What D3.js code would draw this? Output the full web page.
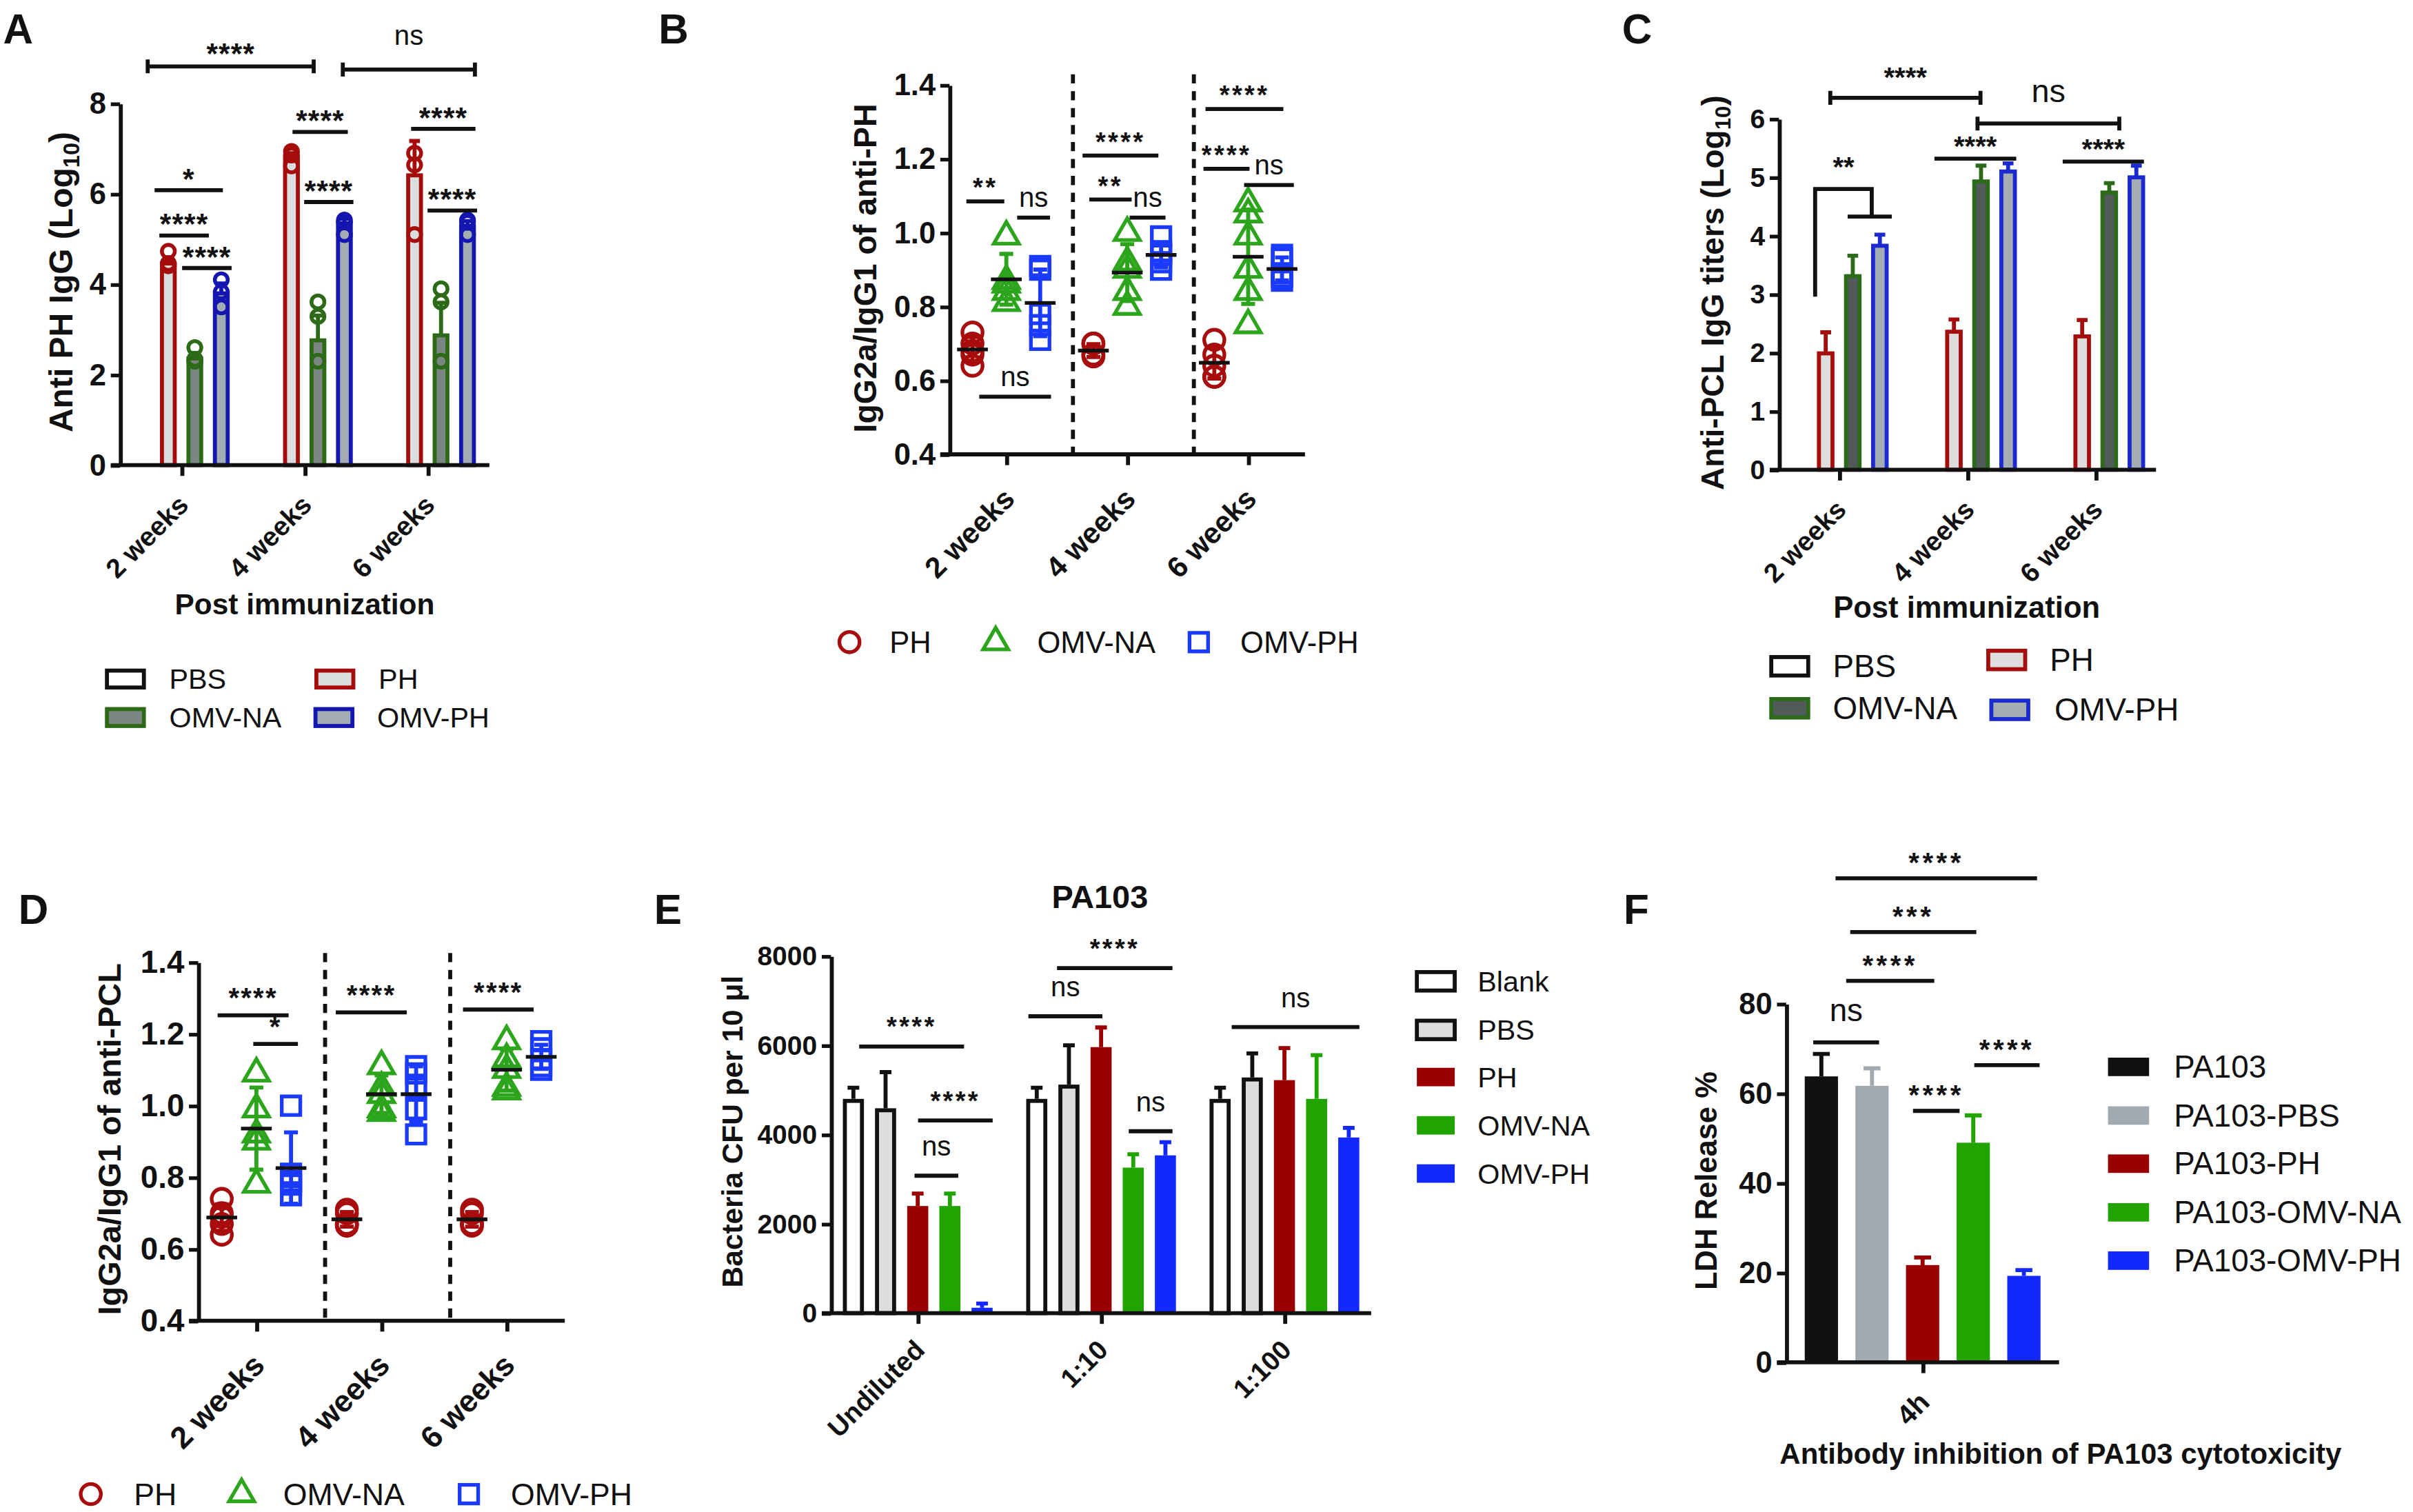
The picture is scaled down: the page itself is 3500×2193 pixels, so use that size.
<!DOCTYPE html>
<html>
<head>
<meta charset="utf-8">
<script src="https://cdn.jsdelivr.net/npm/d3@7"></script>
<style>
  body { margin: 0; background: #fff; }
  svg { display: block; }
</style>
</head>
<body>
<script>
// ---------------- data ----------------
const weeks = ['2 weeks', '4 weeks', '6 weeks'];
const groups4 = ['PBS', 'PH', 'OMV-NA', 'OMV-PH'];

// A: anti PH IgG (log10)
const aPBS = [0, 0, 0];
const aPH = [4.46, 6.80, 6.41];
const aNA = [2.36, 2.76, 2.87];
const aOMV = [3.80, 5.35, 5.28];
const aPHsd = [0.12, 0.10, 0.76];
const aNAsd = [0.12, 0.55, 0.72];
const aOMVsd = [0.22, 0.10, 0.12];
const aPHpts = [[4.73, 4.46, 4.41], [6.94, 6.86, 6.62], [6.90, 6.64, 5.10]];
const aNApts = [[2.60, 2.34, 2.30], [3.61, 3.29, 2.30], [3.90, 3.61, 2.30]];
const aOMVpts = [[4.10, 3.83, 3.50], [5.42, 5.38, 5.10], [5.42, 5.37, 5.10]];
const aSig = [[0, 0.48, 3.06, 6.08, '*'], [0, 0.66, 2.53, 5.08, '****'], [0, 1.52, 3.39, 4.36, '****'],
              [1, 1.04, 3.13, 7.37, '****'], [1, 1.48, 3.34, 5.82, '****'],
              [2, 0.87, 3.30, 7.44, '****'], [2, 1.49, 3.36, 5.63, '****']];
const aTop = [[0, 0.22, 1, 1.84, 8.82, '****'], [1, 2.94, 2, 3.28, 8.75, 'ns']];

// B: IgG2a/IgG1 of anti-PH, individual mice
const bPH = [[0.73, 0.70, 0.68, 0.67, 0.64], [0.70, 0.70, 0.67, 0.665, 0.67], [0.71, 0.67, 0.64, 0.61, 0.61]];
const bNA = [[0.99, 0.87, 0.84, 0.81, 0.86], [1.00, 0.92, 0.90, 0.84, 0.80], [1.08, 1.05, 0.99, 0.90, 0.84, 0.75]];
const bOMV = [[0.91, 0.90, 0.78, 0.75, 0.71], [0.99, 0.95, 0.94, 0.92, 0.90], [0.94, 0.93, 0.89, 0.88, 0.87]];
const bSig = [[0, -1.18, -0.06, 1.085, '**'], [0, 0.32, 1.29, 1.041, 'ns'], [0, -0.8, 1.32, 0.556, 'ns'],
              [1, -1.32, 0.92, 1.209, '****'], [1, -1.12, 0.13, 1.09, '**'], [1, 0.07, 1.13, 1.041, 'ns'],
              [2, -1.26, 1.04, 1.335, '****'], [2, -1.32, 0.04, 1.173, '****'], [2, -0.12, 1.35, 1.129, 'ns']];

// C: anti-PCL IgG titers (log10)
const cPBS = [0, 0, 0];
const cPH = [1.99, 2.36, 2.28];
const cNA = [3.31, 4.93, 4.74];
const cOMV = [3.83, 5.10, 5.00];
const cPHsd = [0.36, 0.21, 0.28];
const cNAsd = [0.35, 0.27, 0.16];
const cOMVsd = [0.19, 0.14, 0.20];
const cSig = [[1, 0.28, 3.30, 5.32, '****'], [2, 0.28, 3.28, 5.27, '****'], [0, 1.81, 3.44, 4.33, '']];
const cTop = [[0, 1.17, 1, 1.98, 6.36, '****'], [1, 1.87, 2, 2.37, 5.92, 'ns']];
const cElbow = [[0, 0.61, 2.96], [0, 0.61, 4.80], [0, 2.70, 4.80], [0, 2.70, 4.33]];

// D: IgG2a/IgG1 of anti-PCL, individual mice
const dPH = [[0.74, 0.70, 0.69, 0.67, 0.64], [0.71, 0.70, 0.67, 0.67, 0.665], [0.71, 0.70, 0.67, 0.665, 0.67]];
const dNA = [[1.09, 0.99, 0.92, 0.90, 0.78], [1.11, 1.05, 1.03, 0.99, 0.98], [1.18, 1.13, 1.10, 1.05, 1.04]];
const dOMV = [[1.00, 0.81, 0.79, 0.75, 0.78], [1.11, 1.09, 1.05, 0.99, 0.92], [1.18, 1.16, 1.13, 1.11, 1.10]];
const dSig = [[0, -1.12, 0.93, 1.252, '****'], [0, -0.09, 1.2, 1.172, '*'],
              [1, -1.32, 0.73, 1.26, '****'], [2, -1.26, 0.78, 1.268, '****']];

// E: bacteria CFU per 10 ul
const dilutions = ['Undiluted', '1:10', '1:100'];
const eGroups = ['Blank', 'PBS', 'PH', 'OMV-NA', 'OMV-PH'];
const eBlank = [4800, 4800, 4800];
const ePBS = [4590, 5120, 5280];
const ePH = [2400, 5960, 5220];
const eNA = [2400, 3260, 4800];
const eOMV = [120, 3535, 3935];
const eBlankSd = [250, 250, 250];
const ePBSsd = [810, 880, 540];
const ePHsd = [280, 440, 720];
const eNAsd = [280, 300, 980];
const eOMVsd = [95, 295, 215];
const eSig = [[0, 0.18, 3.44, 5972, '****'], [0, 2.01, 4.33, 4316, '****'], [0, 1.9, 3.26, 3079, 'ns'],
              [1, -0.26, 2.04, 6651, 'ns'], [1, 0.63, 4.22, 7730, '****'], [1, 2.86, 4.22, 4075, 'ns'],
              [2, 0.36, 4.33, 6409, 'ns']];

// F: LDH release %
const fTime = ['4h'];
const fGroups = ['PA103', 'PA103-PBS', 'PA103-PH', 'PA103-OMV-NA', 'PA103-OMV-PH'];
const fMean = [63.8, 61.7, 21.7, 49.0, 19.3];
const fSd = [5.0, 3.9, 1.7, 6.1, 1.3];
const fSig = [[0, -0.16, 1.14, 71.4, 'ns'], [0, 1.81, 2.73, 56.1, '****'], [0, 3.02, 4.31, 66.3, '****'],
              [0, 0.49, 2.23, 85.1, '****'], [0, 0.57, 3.06, 96.0, '***'], [0, 0.28, 4.26, 108, '****']];

// ---------------- helpers ----------------
const FONT = "'Liberation Sans', Arial, Helvetica, sans-serif";
const INK = '#111';

// drawn in the 1568x982 space of the reference, scaled up to the page
const svg = d3.select('body').append('svg')
    .attr('width', 3500).attr('height', 2193)
    .attr('viewBox', '0 0 1568 982')
    .attr('font-family', FONT);

function text(g, x, y, str, fs, opt = {}){
    return g.append('text').attr('x', x).attr('y', y)
        .attr('font-size', fs).attr('font-weight', opt.bold ? 'bold' : 'normal')
        .attr('text-anchor', opt.anchor || 'start').attr('fill', INK).text(str);
}

function yTitle(g, cx, cy, str, fs, subText, tail){
    const t = g.append('text').attr('transform', `translate(${cx},${cy}) rotate(-90)`)
        .attr('dy', '0.35em').attr('text-anchor', 'middle').attr('font-size', fs)
        .attr('font-weight', 'bold').attr('fill', INK).text(str);
    if(subText){
        t.append('tspan').attr('font-size', fs * 0.68).attr('dy', '0.3em').text(subText);
        t.append('tspan').attr('dy', '-0.2em').text(tail);
    }
}

function yAxis(g, y, x0, ticks, fmt, fs){
    const a = g.append('g').attr('transform', `translate(${x0},0)`)
        .call(d3.axisLeft(y).tickValues(ticks).tickFormat(fmt).tickSize(6).tickSizeOuter(0).tickPadding(3));
    a.attr('font-size', fs).attr('font-family', FONT);
    a.select('.domain').attr('stroke', INK).attr('stroke-width', 2.6);
    a.selectAll('.tick line').attr('stroke', INK).attr('stroke-width', 2.4);
    a.selectAll('.tick text').attr('font-weight', 'bold').attr('fill', INK);
}

function xAxis(g, x, y0, x0, x1, fs, dx, dy){
    const a = g.append('g').attr('transform', `translate(0,${y0})`)
        .call(d3.axisBottom(x).tickSize(7).tickSizeOuter(0));
    a.attr('font-size', fs).attr('font-family', FONT);
    a.select('.domain').attr('d', `M${x0 - 6},0H${x1}`).attr('stroke', INK).attr('stroke-width', 2.6);
    a.selectAll('.tick line').attr('stroke', INK).attr('stroke-width', 2.6);
    a.selectAll('.tick text').attr('y', 0).attr('dy', 0).attr('x', 0)
        .attr('text-anchor', 'end').attr('font-weight', 'bold').attr('fill', INK)
        .attr('transform', `translate(${dx},${dy}) rotate(-45)`);
}

function sigLines(g, list, xAt, y, o){
    list.forEach(([gi, k1, k2, v, lab]) => {
        const x1 = xAt(gi, k1), x2 = xAt(gi, k2), yy = y(v);
        g.append('line').attr('x1', x1).attr('x2', x2).attr('y1', yy).attr('y2', yy)
            .attr('stroke', INK).attr('stroke-width', 2.6);
        if(!lab) return;
        const star = lab.startsWith('*');
        text(g, (x1 + x2) / 2, yy + (star ? o.starDy : o.nsDy), lab, star ? o.starFs : o.nsFs,
             {anchor: 'middle', bold: star}).attr('letter-spacing', star ? (o.ls || 0) : 0);
    });
}

function capBrackets(g, list, xAt, y, o){
    list.forEach(([g1, k1, g2, k2, v, lab]) => {
        const x1 = xAt(g1, k1), x2 = xAt(g2, k2), yy = y(v);
        g.append('path').attr('d', `M${x1},${yy}H${x2}M${x1},${yy - 4.5}V${yy + 4.5}M${x2},${yy - 4.5}V${yy + 4.5}`)
            .attr('stroke', INK).attr('stroke-width', 2.6).attr('fill', 'none');
        const star = lab.startsWith('*');
        text(g, (x1 + x2) / 2, yy + (star ? o.topStarDy : o.topNsDy), lab, star ? o.starFs : o.nsFs,
             {anchor: 'middle', bold: star}).attr('letter-spacing', star ? (o.ls || 0) : 0);
    });
}

function swatch(g, x, cy, w, h, fill, stroke){
    g.append('rect').attr('x', x).attr('y', cy - h / 2).attr('width', w).attr('height', h)
        .attr('fill', fill).attr('stroke', stroke || 'none').attr('stroke-width', stroke ? 2.6 : 0);
}

// grouped outline bars (panels A and C)
function outlineBars(g, rows, x, sub, y, bw, style, sw){
    g.selectAll(null).data(rows.filter(d => d.v > 0)).join('rect')
        .attr('x', d => x(d.w) + sub(d.j) - bw / 2 + sw / 2)
        .attr('y', d => y(d.v))
        .attr('width', bw - sw)
        .attr('height', d => y(0) - y(d.v))
        .attr('fill', d => style[d.grp].fill)
        .attr('stroke', d => style[d.grp].stroke).attr('stroke-width', sw);
    g.selectAll(null).data(rows.filter(d => d.sd > 0)).join('path')
        .attr('d', d => {
            const cx = x(d.w) + sub(d.j), top = y(d.v + d.sd);
            return `M${cx},${y(d.v)}V${top}M${cx - 3.5},${top}H${cx + 3.5}`;
        })
        .attr('stroke', d => style[d.grp].stroke).attr('stroke-width', 2.6).attr('fill', 'none');
}

// scatter with mean and SD (panels B and D)
const markerStyle = [
    {name: 'PH', color: '#a80c0c', sym: d3.symbolCircle, size: 135},
    {name: 'OMV-NA', color: '#2ca51c', sym: d3.symbolTriangle, size: 115},
    {name: 'OMV-PH', color: '#1a3bff', sym: d3.symbolSquare, size: 145}
];

function dotPanel(g, sets, x, sub, y){
    const rows = [];
    weeks.forEach((w, i) => sets.forEach((set, j) => rows.push({w, j, pts: set[i]})));
    rows.forEach(r => { r.mean = d3.mean(r.pts); r.sd = d3.deviation(r.pts); r.cx = x(r.w) + sub(r.j - 1); });
    // sd whiskers
    g.selectAll(null).data(rows).join('path')
        .attr('d', d => {
            const t = y(d.mean + d.sd), b = y(d.mean - d.sd);
            return `M${d.cx},${t}V${b}M${d.cx - 4.5},${t}H${d.cx + 4.5}M${d.cx - 4.5},${b}H${d.cx + 4.5}`;
        })
        .attr('stroke', d => markerStyle[d.j].color).attr('stroke-width', 2.6).attr('fill', 'none');
    // points
    rows.forEach(r => {
        const ms = markerStyle[r.j];
        g.selectAll(null).data(r.pts).join('path')
            .attr('d', d3.symbol(ms.sym, ms.size))
            .attr('transform', v => `translate(${r.cx},${y(v)})`)
            .attr('fill', 'none').attr('stroke', ms.color).attr('stroke-width', 2.4);
    });
    // mean
    g.selectAll(null).data(rows).join('line')
        .attr('x1', d => d.cx - 10).attr('x2', d => d.cx + 10)
        .attr('y1', d => y(d.mean)).attr('y2', d => y(d.mean))
        .attr('stroke', INK).attr('stroke-width', 2.4);
}

function dashedSeparators(g, x, yTop, yBot, shift){
    const d = x.domain();
    for(let i = 0; i < d.length - 1; i++){
        const xx = (x(d[i]) + x(d[i + 1])) / 2 + shift;
        g.append('line').attr('x1', xx).attr('x2', xx).attr('y1', yTop).attr('y2', yBot)
            .attr('stroke', INK).attr('stroke-width', 2.6).attr('stroke-dasharray', '6,5');
    }
}

function markerLegend(g, cy, pos, fs){
    markerStyle.forEach((ms, i) => {
        g.append('path').attr('d', d3.symbol(ms.sym, ms.size)())
            .attr('transform', `translate(${pos[i][0]},${cy})`)
            .attr('fill', 'none').attr('stroke', ms.color).attr('stroke-width', 2.4);
        text(g, pos[i][1], cy + fs * 0.36, ms.name, fs);
    });
}

// ---------------- Panel A ----------------
{
    const g = svg.append('g');
    const x = d3.scalePoint(weeks, [78, 318]).padding(0.5);
    const y = d3.scaleLinear([0, 8], [302, 67]);
    const s = 17.2;
    const sub = d3.scaleLinear([0, 3], [-1.5 * s, 1.5 * s]);
    const style = {
        'PBS': {fill: '#fff', stroke: INK},
        'PH': {fill: '#dadede', stroke: '#a50d0d'},
        'OMV-NA': {fill: '#7b8683', stroke: '#2c6a17'},
        'OMV-PH': {fill: '#a1adb3', stroke: '#1515b0'}
    };
    const series = [aPBS, aPH, aNA, aOMV], sds = [[0, 0, 0], aPHsd, aNAsd, aOMVsd];
    const pts = [[[], [], []], aPHpts, aNApts, aOMVpts];
    const rows = weeks.flatMap((w, i) => groups4.map((grp, j) => ({w, grp, j, v: series[j][i], sd: sds[j][i], pts: pts[j][i]})));
    outlineBars(g, rows, x, sub, y, 10.9, style, 2.6);
    rows.forEach(r => {
        g.selectAll(null).data(r.pts).join('circle')
            .attr('cx', x(r.w) + sub(r.j)).attr('cy', v => y(v)).attr('r', 4.2)
            .attr('fill', 'none').attr('stroke', style[r.grp].stroke).attr('stroke-width', 2.5);
    });
    yAxis(g, y, 78, [0, 2, 4, 6, 8], d3.format('d'), 19.5);
    xAxis(g, x, 302, 78, 318, 17.5, 5, 27);
    const xAt = (gi, k) => x(weeks[gi]) + sub(k);
    const o = {starFs: 19, nsFs: 18, starDy: -1, nsDy: -7, topStarDy: -2, topNsDy: -16, ls: 0.5};
    sigLines(g, aSig, xAt, y, o);
    capBrackets(g, aTop, xAt, y, o);
    yTitle(g, 39.5, 183, 'Anti PH IgG (Log', 21.5, '10', ')');
    text(g, 198, 399, 'Post immunization', 19, {anchor: 'middle', bold: true});
    const leg = [['PBS', 69.5, 441, 110], ['PH', 205.6, 441, 246], ['OMV-NA', 69.5, 466, 110], ['OMV-PH', 205, 466, 245]];
    leg.forEach(([name, sx, cy, tx]) => {
        swatch(g, sx, cy, 24, 11, style[name].fill, style[name].stroke);
        text(g, tx, cy + 6.5, name, 18.5);
    });
    text(g, 2, 28, 'A', 27, {bold: true});
}

// ---------------- Panel B ----------------
{
    const g = svg.append('g');
    const x = d3.scalePoint(weeks, [617, 848]).padding(0.47);
    const y = d3.scaleLinear([0.4, 1.4], [295, 55]);
    const sub = d3.scaleLinear([-1, 1], [-22, 22]);
    dashedSeparators(g, x, 48, 295, 4);
    dotPanel(g, [bPH, bNA, bOMV], x, sub, y);
    yAxis(g, y, 617, [0.4, 0.6, 0.8, 1.0, 1.2, 1.4], d3.format('.1f'), 19.5);
    xAxis(g, x, 295, 617, 848, 19, 6, 30);
    const xAt = (gi, k) => x(weeks[gi]) + sub(k);
    sigLines(g, bSig, xAt, y, {starFs: 17, nsFs: 18, starDy: -3, nsDy: -7, ls: 1.5});
    yTitle(g, 562, 174, 'IgG2a/IgG1 of anti-PH', 20.8);
    markerLegend(g, 417, [[552, 578], [647, 674], [779, 806]], 19.5);
    text(g, 428, 28, 'B', 27, {bold: true});
}

// ---------------- Panel C ----------------
{
    const g = svg.append('g');
    const x = d3.scalePoint(weeks, [1156, 1401]).padding(0.47);
    const y = d3.scaleLinear([0, 6], [305, 77]);
    const s = 17.6;
    const sub = d3.scaleLinear([0, 3], [-1.5 * s, 1.5 * s]);
    const style = {
        'PBS': {fill: '#fff', stroke: INK},
        'PH': {fill: '#dcdddc', stroke: '#a50d0d'},
        'OMV-NA': {fill: '#515a59', stroke: '#2a6a18'},
        'OMV-PH': {fill: '#a4aeb2', stroke: '#1a2ad0'}
    };
    const series = [cPBS, cPH, cNA, cOMV], sds = [[0, 0, 0], cPHsd, cNAsd, cOMVsd];
    const rows = weeks.flatMap((w, i) => groups4.map((grp, j) => ({w, grp, j, v: series[j][i], sd: sds[j][i]})));
    outlineBars(g, rows, x, sub, y, 11.4, style, 2.6);
    yAxis(g, y, 1156, [0, 1, 2, 3, 4, 5, 6], d3.format('d'), 17.5);
    xAxis(g, x, 305, 1156, 1401, 17.5, 5, 27);
    const xAt = (gi, k) => x(weeks[gi]) + sub(k);
    const o = {starFs: 18, nsFs: 21, starDy: -2, nsDy: -7, topStarDy: -7, topNsDy: -14, ls: 0};
    sigLines(g, cSig, xAt, y, o);
    capBrackets(g, cTop, xAt, y, o);
    g.append('path')
        .attr('d', d3.line().x(d => xAt(d[0], d[1])).y(d => y(d[2]))(cElbow))
        .attr('fill', 'none').attr('stroke', INK).attr('stroke-width', 2.6);
    text(g, xAt(0, 1.66), y(4.8) - 8, '**', 18, {anchor: 'middle', bold: true});
    yTitle(g, 1113, 190, 'Anti-PCL IgG titers (Log', 20.6, '10', ')');
    text(g, 1278, 401, 'Post immunization', 19.5, {anchor: 'middle', bold: true});
    const leg = [['PBS', 1151, 432.7, 1191], ['PH', 1292, 428.6, 1332], ['OMV-NA', 1151, 460, 1191], ['OMV-PH', 1294, 461, 1335]];
    leg.forEach(([name, sx, cy, tx]) => {
        swatch(g, sx, cy, 24, 12, style[name].fill, style[name].stroke);
        text(g, tx, cy + 7, name, 20.5);
    });
    text(g, 1054, 28, 'C', 27, {bold: true});
}

// ---------------- Panel D ----------------
{
    const g = svg.append('g');
    const x = d3.scalePoint(weeks, [128.8, 367]).padding(0.465);
    const y = d3.scaleLinear([0.4, 1.4], [858, 625]);
    const sub = d3.scaleLinear([-1, 1], [-22.5, 22.5]);
    dashedSeparators(g, x, 619, 858, 4);
    dotPanel(g, [dPH, dNA, dOMV], x, sub, y);
    yAxis(g, y, 128.8, [0.4, 0.6, 0.8, 1.0, 1.2, 1.4], d3.format('.1f'), 20.5);
    xAxis(g, x, 858, 128.8, 367, 20, 6, 30);
    const xAt = (gi, k) => x(weeks[gi]) + sub(k);
    sigLines(g, dSig, xAt, y, {starFs: 18, nsFs: 18, starDy: -5, nsDy: -7, ls: 1});
    yTitle(g, 71, 740, 'IgG2a/IgG1 of anti-PCL', 21);
    markerLegend(g, 970.6, [[59, 87], [157, 184], [304.7, 332]], 20);
    text(g, 12, 600, 'D', 27, {bold: true});
}

// ---------------- Panel E ----------------
{
    const g = svg.append('g');
    const x = d3.scalePoint(dilutions, [540, 891]).padding(0.473);
    const y = d3.scaleLinear([0, 8000], [853, 621]);
    const s = 20.9, bw = 13.7;
    const sub = d3.scaleLinear([0, 4], [-2 * s, 2 * s]);
    const fills = ['#ffffff', '#dcdede', '#9a0000', '#21a300', '#1228ff'];
    const strokes = [INK, INK, null, null, null];
    const errColor = [INK, INK, '#9a0000', '#21a300', '#1228ff'];
    const series = [eBlank, ePBS, ePH, eNA, eOMV];
    const sds = [eBlankSd, ePBSsd, ePHsd, eNAsd, eOMVsd];
    const rows = dilutions.flatMap((w, i) => eGroups.map((grp, j) => ({w, j, v: series[j][i], sd: sds[j][i]})));
    g.selectAll(null).data(rows).join('path')
        .attr('d', d => {
            const cx = x(d.w) + sub(d.j), top = y(d.v + d.sd);
            return `M${cx},${y(d.v)}V${top}M${cx - 3.8},${top}H${cx + 3.8}`;
        })
        .attr('stroke', d => errColor[d.j]).attr('stroke-width', 2.6).attr('fill', 'none');
    g.selectAll(null).data(rows).join('rect')
        .attr('x', d => x(d.w) + sub(d.j) - bw / 2 + (strokes[d.j] ? 1.3 : 0))
        .attr('y', d => y(d.v) + (strokes[d.j] ? 1.3 : 0))
        .attr('width', d => bw - (strokes[d.j] ? 2.6 : 0))
        .attr('height', d => y(0) - y(d.v) - (strokes[d.j] ? 1.3 : 0))
        .attr('fill', d => fills[d.j])
        .attr('stroke', d => strokes[d.j] || 'none').attr('stroke-width', 2.6);
    yAxis(g, y, 540, [0, 2000, 4000, 6000, 8000], d3.format('d'), 17.5);
    xAxis(g, x, 853, 540, 891, 17.4, 5, 25);
    const xAt = (gi, k) => x(dilutions[gi]) + sub(k);
    sigLines(g, eSig, xAt, y, {starFs: 17, nsFs: 18, starDy: -7, nsDy: -13, ls: 1.5});
    yTitle(g, 476, 735, 'Bacteria CFU per 10 \u03bcl', 19);
    text(g, 714.7, 590, 'PA103', 21, {anchor: 'middle', bold: true});
    const rowsY = [637.4, 669, 699.6, 731, 762.3];
    eGroups.forEach((name, j) => {
        swatch(g, 920.7, rowsY[j], 24.6, 12, fills[j], strokes[j]);
        text(g, 960.2, rowsY[j] + 6.5, name, 18.5);
    });
    text(g, 425, 600, 'E', 27, {bold: true});
}

// ---------------- Panel F ----------------
{
    const g = svg.append('g');
    const x = d3.scalePoint(fTime, [1160.7, 1338]).padding(0.5);
    const y = d3.scaleLinear([0, 80], [885, 652]);
    const s = 32.9, bw = 21.6;
    const sub = d3.scaleLinear([0, 4], [-2 * s, 2 * s]);
    const colors = ['#111111', '#a0aab0', '#9a0000', '#21a300', '#1228ff'];
    const rows = fGroups.map((grp, j) => ({w: fTime[0], j, v: fMean[j], sd: fSd[j]}));
    g.selectAll(null).data(rows).join('path')
        .attr('d', d => {
            const cx = x(d.w) + sub(d.j), top = y(d.v + d.sd);
            return `M${cx},${y(d.v)}V${top}M${cx - 5.5},${top}H${cx + 5.5}`;
        })
        .attr('stroke', d => colors[d.j]).attr('stroke-width', 2.6).attr('fill', 'none');
    g.selectAll(null).data(rows).join('rect')
        .attr('x', d => x(d.w) + sub(d.j) - bw / 2).attr('y', d => y(d.v))
        .attr('width', bw).attr('height', d => y(0) - y(d.v))
        .attr('fill', d => colors[d.j]);
    yAxis(g, y, 1160.7, [0, 20, 40, 60, 80], d3.format('d'), 19.5);
    xAxis(g, x, 885, 1160.7, 1338, 18, 5, 27);
    const xAt = (gi, k) => x(fTime[gi]) + sub(k);
    sigLines(g, fSig, xAt, y, {starFs: 18, nsFs: 20.5, starDy: -4, nsDy: -14, ls: 2});
    yTitle(g, 1108.6, 767, 'LDH Release %', 19.5);
    text(g, 1339, 951, 'Antibody inhibition of PA103 cytotoxicity', 18.8, {anchor: 'middle', bold: true});
    const rowsY = [693, 724.6, 755.9, 787.5, 818.9];
    fGroups.forEach((name, j) => {
        swatch(g, 1369.8, rowsY[j], 26.7, 12, colors[j]);
        text(g, 1412.6, rowsY[j] + 7, name, 20.5);
    });
    text(g, 1055, 600, 'F', 27, {bold: true});
}
</script>
</body>
</html>
